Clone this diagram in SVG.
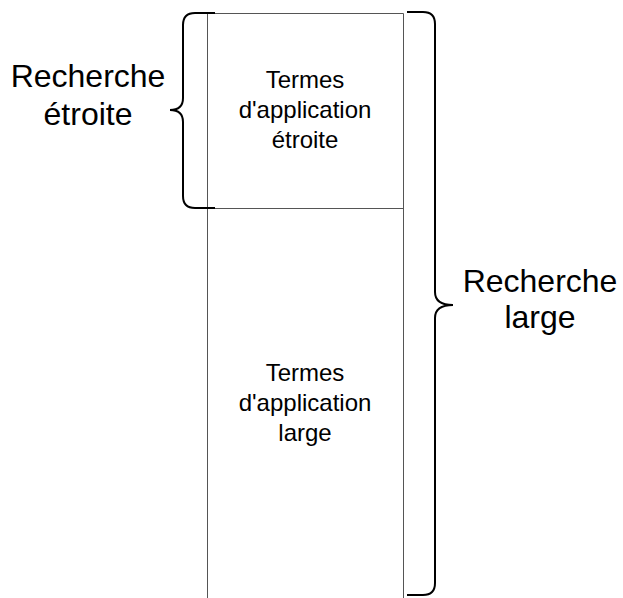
<svg xmlns="http://www.w3.org/2000/svg" width="623" height="598" viewBox="0 0 623 598">
<style>
.box{fill:none;stroke:#555;stroke-width:1}
.brace{fill:none;stroke:#000;stroke-width:2}
.big{font-family:"Liberation Sans",Arial,sans-serif;font-size:32px;fill:#000;text-anchor:middle}
.small{font-family:"Liberation Sans",Arial,sans-serif;font-size:24px;fill:#000;text-anchor:middle}
</style>
<rect width="623" height="598" fill="#fff"/>
<g id="narrow-terms">
<path class="box" d="M207.5,598 V13.5 H403.5 V598"/>
<text class="small" x="305" y="88">Termes</text>
<text class="small" x="305" y="118">d'application</text>
<text class="small" x="305" y="148">étroite</text>
</g>
<g id="broad-terms">
<path class="box" d="M207.5,208.5 H403.5"/>
<text class="small" x="305" y="381">Termes</text>
<text class="small" x="305" y="411">d'application</text>
<text class="small" x="305" y="441">large</text>
</g>
<g id="connectors">
<path class="brace" d="M215,13 H195 Q183,13 183,25 V98 Q183,110 170,110 Q183,110 183,122 V196 Q183,208 195,208 H215"/>
<path class="brace" d="M407,12 H423 Q435,12 435,24 V292 Q435,305 453,305 Q435,305 435,318 V583 Q435,595 423,595 H407"/>
</g>
<g id="narrow-search">
<text class="big" x="88" y="87">Recherche</text>
<text class="big" x="88" y="125">étroite</text>
</g>
<g id="broad-search">
<text class="big" x="540" y="292">Recherche</text>
<text class="big" x="540" y="328">large</text>
</g>
</svg>
